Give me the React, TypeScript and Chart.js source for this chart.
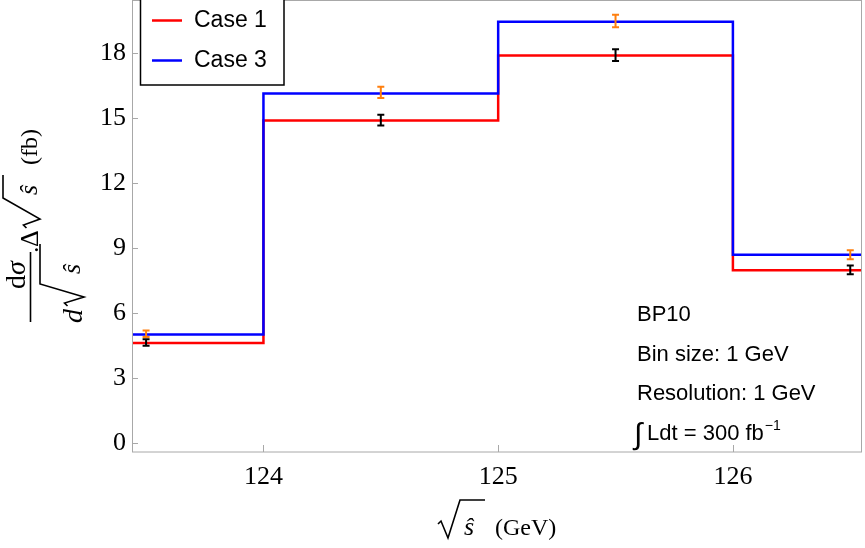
import React, { useEffect, useRef } from "react";
import { Chart, registerables } from "chart.js";

Chart.register(...registerables);

// ---- data ----
const binEdges = [123.44, 124, 125, 126, 126.55];
const case1Values = [4.62, 14.9, 17.9, 7.98];
const case3Values = [5.01, 16.15, 19.47, 8.7];
const pointX = [123.5, 124.5, 125.5, 126.5];
const case1Points = [4.64, 14.92, 17.92, 8.0];
const case1Errors = [0.15, 0.25, 0.27, 0.2];
const case3Points = [5.05, 16.2, 19.5, 8.7];
const case3Errors = [0.15, 0.26, 0.29, 0.21];
const xTicks = [124, 125, 126];
const yTicks = [0, 3, 6, 9, 12, 15, 18];
const yMin = -0.416;
const yMax = 20.47;
const legendLabels = ["Case 1", "Case 3"];
const annotationLines = ["BP10", "Bin size: 1 GeV", "Resolution: 1 GeV"];

const RED = "#ff0000";
const BLUE = "#0000ff";
const ORANGE = "#ff7f0e";
const FRAME = "#a8a8a8";
const SERIF = "'Liberation Serif', serif";
const SANS = "'Liberation Sans', Arial, sans-serif";

function stepData(values: number[]) {
  return binEdges.map((x, i) => ({ x, y: values[Math.min(i, values.length - 1)] }));
}

function drawRadical(ctx: CanvasRenderingContext2D, x0: number, xLow: number, xTop: number, x1: number, yBase: number, yTop: number) {
  const yMid = yBase - (yBase - yTop) * 0.42;
  ctx.beginPath();
  ctx.moveTo(x0, yMid + 2);
  ctx.lineTo(x0 + 3, yMid - 1);
  ctx.lineTo(xLow, yBase);
  ctx.lineTo(xTop, yTop);
  ctx.lineTo(x1, yTop);
  ctx.stroke();
}

const overlayPlugin = {
  id: "overlay",
  afterDatasetsDraw(chart: any) {
    const ctx: CanvasRenderingContext2D = chart.ctx;
    const xs = chart.scales.x;
    const ys = chart.scales.y;
    const drawErr = (vals: number[], errs: number[], color: string) => {
      ctx.save();
      ctx.strokeStyle = color;
      ctx.lineWidth = 2;
      vals.forEach((v, i) => {
        const x = xs.getPixelForValue(pointX[i]);
        const yLo = ys.getPixelForValue(v - errs[i]);
        const yHi = ys.getPixelForValue(v + errs[i]);
        ctx.beginPath();
        ctx.moveTo(x, yLo);
        ctx.lineTo(x, yHi);
        ctx.moveTo(x - 3.5, yLo);
        ctx.lineTo(x + 3.5, yLo);
        ctx.moveTo(x - 3.5, yHi);
        ctx.lineTo(x + 3.5, yHi);
        ctx.stroke();
      });
      ctx.restore();
    };
    drawErr(case3Points, case3Errors, ORANGE);
    drawErr(case1Points, case1Errors, "#000000");
  },
  afterDraw(chart: any) {
    const ctx: CanvasRenderingContext2D = chart.ctx;
    const { left, right, top, bottom } = chart.chartArea;
    const xs = chart.scales.x;
    const ys = chart.scales.y;
    ctx.save();
    // frame
    ctx.strokeStyle = FRAME;
    ctx.lineWidth = 1;
    ctx.strokeRect(Math.round(left) + 0.5, Math.round(top) + 0.5, Math.round(right - left) - 1, Math.round(bottom - top) - 0.5);
    // inward ticks
    ctx.beginPath();
    yTicks.forEach((v) => {
      const y = Math.round(ys.getPixelForValue(v)) + 0.5;
      ctx.moveTo(left, y);
      ctx.lineTo(left + 6, y);
    });
    xTicks.forEach((v) => {
      const x = Math.round(xs.getPixelForValue(v)) + 0.5;
      ctx.moveTo(x, bottom);
      ctx.lineTo(x, bottom - 7);
    });
    ctx.stroke();

    // legend
    ctx.fillStyle = "#ffffff";
    ctx.fillRect(140, -5, 144, 90);
    ctx.strokeStyle = "#000000";
    ctx.lineWidth = 1.5;
    ctx.strokeRect(140.5, -5, 143.5, 90);
    const legendColors = [RED, BLUE];
    legendLabels.forEach((lab, i) => {
      const y = 20.5 + i * 40;
      ctx.strokeStyle = legendColors[i];
      ctx.lineWidth = 2.5;
      ctx.beginPath();
      ctx.moveTo(152, y);
      ctx.lineTo(182, y);
      ctx.stroke();
      ctx.fillStyle = "#000000";
      ctx.font = `23px ${SANS}`;
      ctx.textAlign = "left";
      ctx.textBaseline = "alphabetic";
      ctx.fillText(lab, 194, 27 + i * 40);
    });

    // annotations
    ctx.fillStyle = "#000000";
    ctx.font = `22px ${SANS}`;
    ctx.textAlign = "left";
    ctx.textBaseline = "alphabetic";
    annotationLines.forEach((t, i) => {
      ctx.fillText(t, 637, 321 + i * 39.5);
    });
    ctx.font = `30px ${SANS}`;
    ctx.fillText("\u222B", 634, 444);
    ctx.font = `22px ${SANS}`;
    const main = "Ldt = 300 fb";
    ctx.fillText(main, 647, 440);
    const w = ctx.measureText(main).width;
    ctx.font = `14px ${SANS}`;
    ctx.fillText("\u22121", 647 + w + 1, 430);

    // x title
    ctx.strokeStyle = "#000000";
    ctx.lineWidth = 1.6;
    drawRadical(ctx, 438, 448, 460, 485, 538, 500);
    ctx.font = `italic 26px ${SERIF}`;
    ctx.fillText("\u015D", 464, 535);
    ctx.font = `24px ${SERIF}`;
    ctx.fillText("(GeV)", 495, 535);

    // y title (rotated)
    ctx.save();
    ctx.rotate(-Math.PI / 2);
    // numerator d sigma
    ctx.font = `28px ${SERIF}`;
    const dW = ctx.measureText("d").width;
    ctx.font = `italic 28px ${SERIF}`;
    const sW = ctx.measureText("\u03C3").width;
    const numStart = -275 - (dW + sW) / 2;
    ctx.font = `28px ${SERIF}`;
    ctx.fillText("d", numStart, 25);
    ctx.font = `italic 28px ${SERIF}`;
    ctx.fillText("\u03C3", numStart + dW, 25);
    // fraction bar
    ctx.lineWidth = 1.6;
    ctx.beginPath();
    ctx.moveTo(-322, 30.5);
    ctx.lineTo(-252, 30.5);
    ctx.stroke();
    // denominator d sqrt(s^)
    ctx.font = `italic 28px ${SERIF}`;
    ctx.fillText("d", -323, 82);
    drawRadical(ctx, -306, -297, -284, -244, 84, 40);
    ctx.font = `italic 26px ${SERIF}`;
    ctx.fillText("\u015D", -274, 80);
    // . Delta sqrt(s^) (fb)
    ctx.font = `26px ${SERIF}`;
    ctx.fillText(".", -253, 38);
    ctx.fillText("\u0394", -247, 38);
    drawRadical(ctx, -228, -219, -198, -175, 40, 3);
    ctx.font = `italic 26px ${SERIF}`;
    ctx.fillText("\u015D", -195, 37);
    ctx.font = `24px ${SERIF}`;
    ctx.fillText("(fb)", -165, 37);
    ctx.restore();

    ctx.restore();
  },
};

export default function App() {
  const canvasRef = useRef<HTMLCanvasElement | null>(null);

  useEffect(() => {
    if (!canvasRef.current) return;
    const chart = new Chart(canvasRef.current, {
      type: "line",
      data: {
        datasets: [
          {
            label: legendLabels[1],
            data: stepData(case3Values),
            borderColor: BLUE,
            borderWidth: 2.5,
            stepped: "before",
            pointRadius: 0,
            fill: false,
            order: 0,
          },
          {
            label: legendLabels[0],
            data: stepData(case1Values),
            borderColor: RED,
            borderWidth: 2.5,
            stepped: "before",
            pointRadius: 0,
            fill: false,
            order: 1,
          },
        ],
      },
      options: {
        animation: false,
        responsive: false,
        devicePixelRatio: 1,
        layout: { padding: { left: 0, right: 3, top: 0, bottom: 0 } },
        plugins: { legend: { display: false }, tooltip: { enabled: false } },
        scales: {
          x: {
            type: "linear",
            min: binEdges[0],
            max: binEdges[binEdges.length - 1],
            afterBuildTicks: (s: any) => {
              s.ticks = xTicks.map((v) => ({ value: v }));
            },
            afterFit: (s: any) => {
              s.height = 96;
              s.paddingLeft = 0;
              s.paddingRight = 0;
            },
            grid: { display: false, drawTicks: false },
            border: { display: false },
            ticks: {
              font: { family: SERIF, size: 26 },
              color: "#000000",
              padding: 10,
              maxRotation: 0,
              autoSkip: false,
              callback: (v: any) => String(v),
            },
          },
          y: {
            type: "linear",
            min: yMin,
            max: yMax,
            afterBuildTicks: (s: any) => {
              s.ticks = yTicks.map((v) => ({ value: v }));
            },
            afterFit: (s: any) => {
              s.width = 132;
              s.paddingTop = 0;
              s.paddingBottom = 0;
            },
            grid: { display: false, drawTicks: false },
            border: { display: false },
            ticks: {
              font: { family: SERIF, size: 26 },
              color: "#000000",
              padding: 6,
              callback: (v: any) => String(v),
            },
          },
        },
      },
      plugins: [overlayPlugin],
    } as any);
    return () => chart.destroy();
  }, []);

  return (
    <div style={{ position: "absolute", left: 0, top: 0, width: 865, height: 548, background: "#ffffff" }}>
      <canvas ref={canvasRef} width={865} height={548} style={{ width: 865, height: 548, display: "block" }} />
    </div>
  );
}
